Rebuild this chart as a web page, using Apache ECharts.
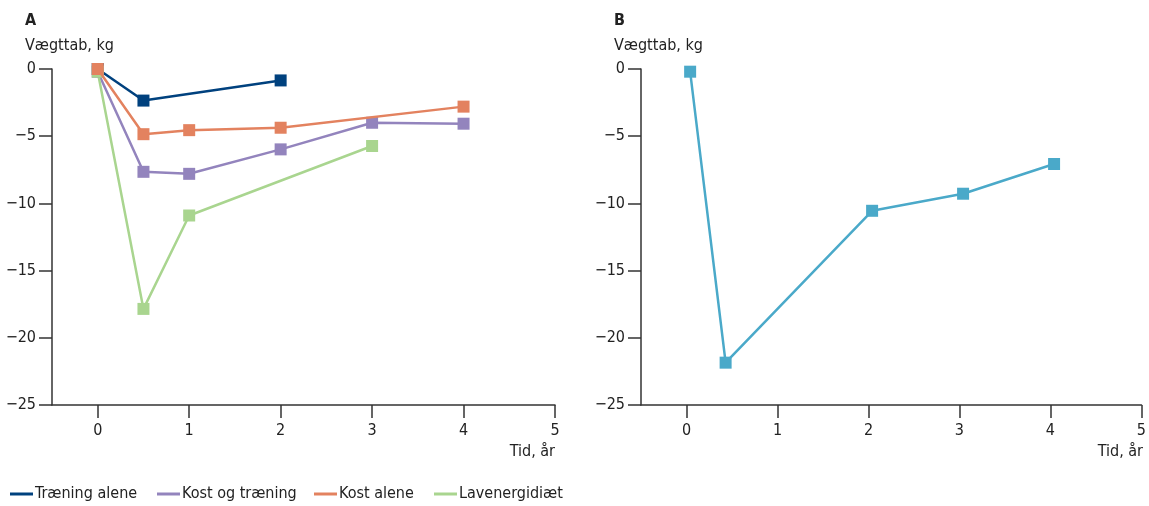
<!DOCTYPE html>
<html><head><meta charset="utf-8">
<script src="https://cdn.jsdelivr.net/npm/echarts@6/dist/echarts.min.js"></script>
<style>html,body{margin:0;padding:0;background:#fff}#c{width:1149px;height:506px}</style>
</head><body><div id="c"></div>
<script>
const FONT = '"Liberation Sans Narrow","DejaVu Sans Condensed",sans-serif';
const seriesNames = ['Træning alene', 'Kost og træning', 'Kost alene', 'Lavenergidiæt'];
const traeningAlene = [[0, 0], [0.5, -2.35], [2, -0.85]];
const kostOgTraening = [[0, -0.2], [0.5, -7.65], [1, -7.8], [2, -5.98], [3, -4.0], [4, -4.07]];
const kostAlene = [[0, 0], [0.5, -4.85], [1, -4.55], [2, -4.37], [4, -2.8]];
const lavenergidiaet = [[0, -0.2], [0.5, -17.85], [1, -10.9], [3, -5.73]];
const panelB = [[0.04, -0.2], [0.43, -21.85], [2.04, -10.55], [3.04, -9.28], [4.04, -7.07]];
const xTicks = [0, 1, 2, 3, 4, 5];
const yTicks = [0, -5, -10, -15, -20, -25];
const colors = ['#00417e', '#9384bd', '#e3825f', '#a9d58f'];
const colorB = '#4aa9c9';

const axisColor = '#333';
function xAxis(gi) {
  return {
    type: 'value', gridIndex: gi, min: -0.5, max: 5,
    axisLine: {show: true, onZero: false, lineStyle: {color: axisColor, width: 1.5}},
    axisTick: {show: true, customValues: xTicks, length: 13, inside: false, lineStyle: {color: axisColor, width: 1.5}},
    axisLabel: {customValues: xTicks, color: '#222', fontFamily: FONT, fontSize: 16, margin: 18},
    splitLine: {show: false}
  };
}
function yAxis(gi) {
  return {
    type: 'value', gridIndex: gi, min: -25, max: 0, interval: 5,
    axisLine: {show: true, onZero: false, lineStyle: {color: axisColor, width: 1.5}},
    axisTick: {show: true, length: 13, lineStyle: {color: axisColor, width: 1.5}},
    axisLabel: {color: '#222', fontFamily: FONT, fontSize: 16, margin: 16,
      formatter: v => v < 0 ? '\u2212' + Math.abs(v) : String(v)},
    splitLine: {show: false}
  };
}
function line(name, data, color, gi, z) {
  return {
    name: name, type: 'line', xAxisIndex: gi, yAxisIndex: gi, data: data, z: z,
    symbol: 'rect', symbolSize: 12, showAllSymbol: true,
    lineStyle: {color: color, width: 2.5}, itemStyle: {color: color},
    emphasis: {disabled: true}, animation: false
  };
}
const tStyle = {fontFamily: FONT, fontSize: 16, color: '#222', fontWeight: 'normal'};
const legendLefts = [10, 157, 314, 434];
const chart = echarts.init(document.getElementById('c'));
chart.setOption({
  animation: false,
  title: [
    {text: 'A', left: 20, top: 8, textStyle: Object.assign({}, tStyle, {fontWeight: 'bold'})},
    {text: 'Vægttab, kg', left: 20, top: 33, textStyle: tStyle},
    {text: 'B', left: 609, top: 8, textStyle: Object.assign({}, tStyle, {fontWeight: 'bold'})},
    {text: 'Vægttab, kg', left: 609, top: 33, textStyle: tStyle},
    {text: 'Tid, år', right: 594, top: 444, textStyle: tStyle, padding: 0},
    {text: 'Tid, år', right: 6, top: 444, textStyle: tStyle, padding: 0}
  ],
  legend: seriesNames.map((n, i) => ({
    data: [n], left: legendLefts[i], top: 486, icon: 'rect', itemWidth: 23, itemHeight: 3,
    itemGap: 0, padding: 0, textStyle: {fontFamily: FONT, fontSize: 16, color: '#222', padding: [0, 0, 0, -3]},
    selectedMode: false
  })),
  grid: [
    {left: 52, right: 594, top: 69, bottom: 101},
    {left: 641, right: 6, top: 69, bottom: 101}
  ],
  xAxis: [xAxis(0), xAxis(1)],
  yAxis: [yAxis(0), yAxis(1)],
  series: [
    line(seriesNames[0], traeningAlene, colors[0], 0, 2),
    line(seriesNames[1], kostOgTraening, colors[1], 0, 2),
    line(seriesNames[2], kostAlene, colors[2], 0, 3),
    line(seriesNames[3], lavenergidiaet, colors[3], 0, 2),
    line('B', panelB, colorB, 1, 2)
  ]
});
</script></body></html>
